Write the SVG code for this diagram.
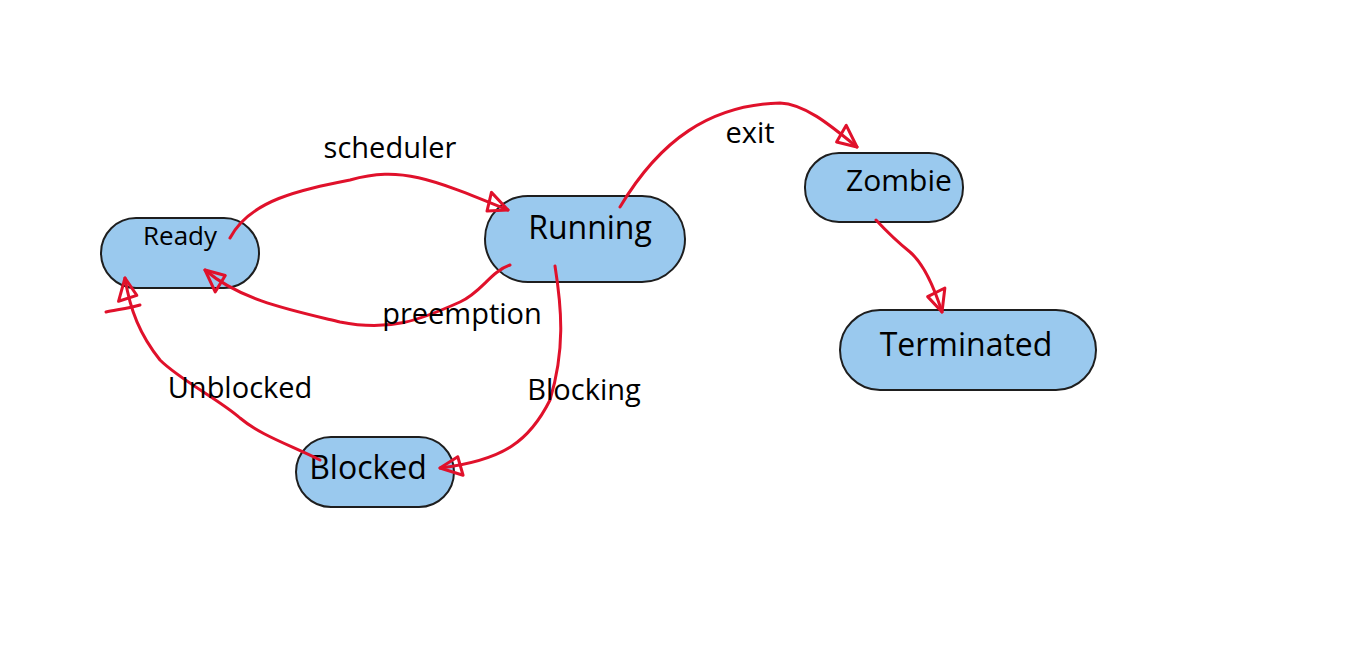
<svg xmlns="http://www.w3.org/2000/svg" width="1365" height="652" viewBox="0 0 1365 652">
<style>
.node rect{fill:#9ac9ee;stroke:#1e1e1e;stroke-width:2}
.node text{font-family:"Comic Sans MS","Open Sans","Noto Sans",sans-serif;fill:#000;text-anchor:middle;dominant-baseline:middle}
.lbl{font-family:"Open Sans","Noto Sans",sans-serif;font-size:29px;fill:#000;text-anchor:middle;dominant-baseline:middle}
.edge{fill:none;stroke:#e0112b;stroke-width:3;stroke-linecap:round;stroke-linejoin:round}
</style>
<defs>
<marker id="ah" viewBox="-26 -14 30 28" refX="0" refY="0" markerWidth="30" markerHeight="28" markerUnits="userSpaceOnUse" orient="auto">
<path d="M0,0 L-22,-10 L-19,9 Z" fill="none" stroke="#e0112b" stroke-width="3" stroke-linejoin="round"/>
</marker>
</defs>
<rect width="1365" height="652" fill="#fff"/>
<g id="node-ready" class="node"><rect x="101" y="218" width="158" height="70" rx="35"/><text x="180" y="238" font-size="26">Ready</text></g>
<g id="node-running" class="node"><rect x="485" y="196" width="200" height="86" rx="43"/><text x="590" y="230" font-size="32">Running</text></g>
<g id="node-zombie" class="node"><rect x="805" y="153" width="158" height="69" rx="34"/><text x="899" y="183" font-size="30">Zombie</text></g>
<g id="node-terminated" class="node"><rect x="840" y="310" width="256" height="80" rx="40"/><text x="966" y="347" font-size="32">Terminated</text></g>
<g id="node-blocked" class="node"><rect x="296" y="437" width="158" height="70" rx="35"/><text x="368" y="470" font-size="32">Blocked</text></g>
<g id="connectors">
<path class="edge" d="M230,238 C250,200 300,190 350,180 C400,166 430,178 508,210" marker-end="url(#ah)"/>
<path class="edge" d="M510,265 C490,272 482,292 460,302 C420,320 390,332 340,322 C290,310 240,300 205,270" marker-end="url(#ah)"/>
<path class="edge" d="M620,207 C660,140 710,105 780,103 C805,104 830,125 857,147" marker-end="url(#ah)"/>
<path class="edge" d="M876,220 C890,235 895,240 910,252 C925,265 935,290 942,312" marker-end="url(#ah)"/>
<path class="edge" d="M555,266 C562,310 565,350 550,400 C530,440 505,460 440,468" marker-end="url(#ah)"/>
<path class="edge" d="M320,460 C290,445 260,435 240,418 C220,400 180,380 160,360 C140,335 130,310 125,278" marker-end="url(#ah)"/>
<path class="edge" d="M106,312 C115,310 130,308 140,305"/>
</g>
<g id="labels">
<text class="lbl" x="390" y="150">scheduler</text>
<text class="lbl" x="462" y="316">preemption</text>
<text class="lbl" x="750" y="135">exit</text>
<text class="lbl" x="584" y="392">Blocking</text>
<text class="lbl" x="240" y="390">Unblocked</text>
</g>
</svg>
